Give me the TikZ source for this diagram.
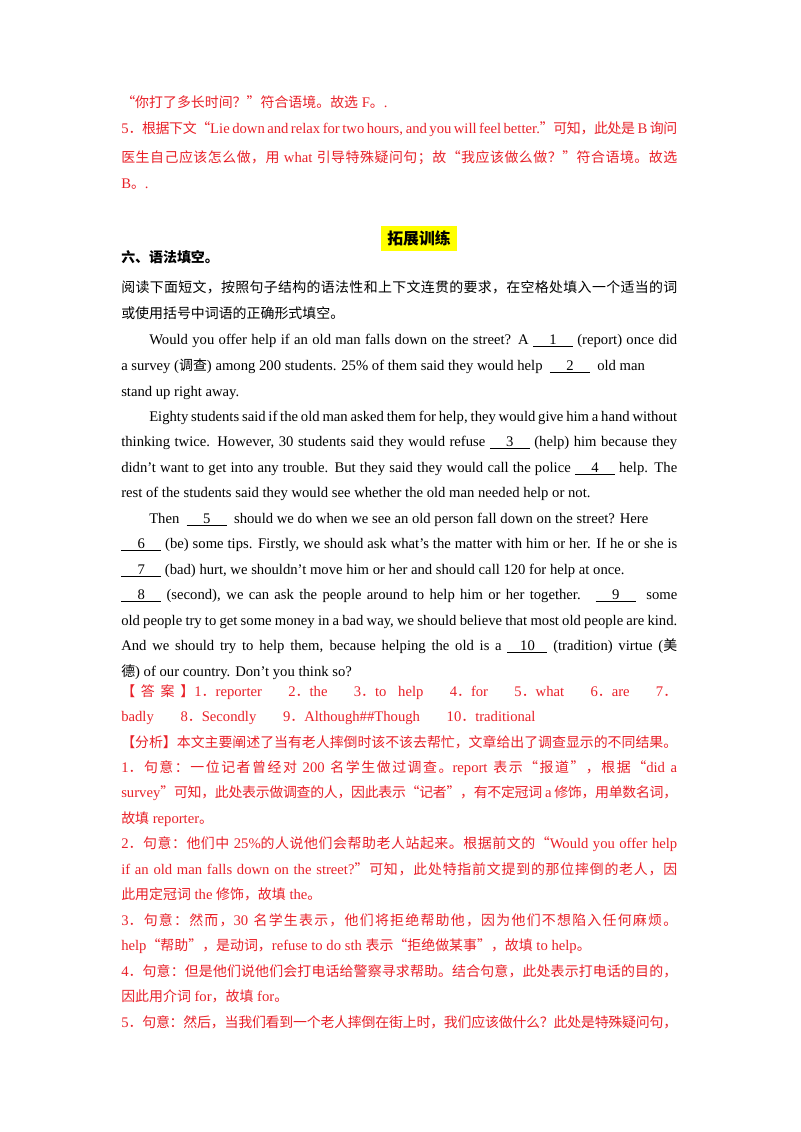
\documentclass[tikz,border=0pt]{standalone}
\usepackage{fontspec}
\setmainfont{Liberation Serif}
\newfontfamily\cjk{Noto Sans CJK SC}[Scale=0.95]
\usepackage{xcolor}
\usetikzlibrary{positioning}
\definecolor{ansred}{RGB}{232,32,40}
\definecolor{hlyellow}{RGB}{255,255,0}
% CJK characters switch to the CJK family by themselves
\XeTeXinterchartokenstate=1
\newXeTeXintercharclass\cjkclass
\makeatletter
\count@="4E00
\loop\XeTeXcharclass\count@=\cjkclass\ifnum\count@<"9FFF\advance\count@ by 1\repeat
\count@="3000
\loop\XeTeXcharclass\count@=\cjkclass\ifnum\count@<"303F\advance\count@ by 1\repeat
\count@="FF00
\loop\XeTeXcharclass\count@=\cjkclass\ifnum\count@<"FF5E\advance\count@ by 1\repeat
\makeatother
\XeTeXcharclass"201C=\cjkclass
\XeTeXcharclass"201D=\cjkclass
\XeTeXinterchartoks 0 \cjkclass={\begingroup\cjk}
\XeTeXinterchartoks 4095 \cjkclass={\begingroup\cjk}
\XeTeXinterchartoks \cjkclass 0={\endgroup}
\XeTeXinterchartoks \cjkclass 4095={\endgroup}
\XeTeXinterchartoks \cjkclass \cjkclass={\hskip 0pt plus 1pt minus 0.3pt\relax}
\newcommand{\blank}[1]{\underline{\makebox[30pt]{#1}}}
\newcommand{\fullbox}{\hbox to 417pt\bgroup}
\newcommand{\fullboxi}{\hbox to 396pt\bgroup}
\begin{document}
\begin{tikzpicture}
  [
    x=0.75pt, y=-0.75pt,
    ln/.style={anchor=base west, inner sep=0pt, font=\fontsize{11}{12}\selectfont},
    fl/.style={ln, execute at begin node=\fullbox, execute at end node=\egroup},
    fli/.style={ln, execute at begin node=\fullboxi, execute at end node=\egroup},
    rd/.style={text=ansred}
  ]
  \useasboundingbox (0,0) rectangle (800,1132);
  % answer lines at the top
  \node (a1) at (121,107) [ln, rd] {“你打了多长时间？”符合语境。故选 F。.};
  \node (a2) at (121,133) [fl, rd] {5．根据下文“Lie down and relax for two hours, and you will feel better.”可知，此处是 B 询问};
  \node (a3) at (121,162) [fl, rd] {医生自己应该怎么做，用 what 引导特殊疑问句；故“我应该做么做？”符合语境。故选};
  \node (a4) at (121,188) [ln, rd] {B。.};
  % title
  \fill [hlyellow] (381,226) rectangle (457,251);
  \node (title) at (419,244) [anchor=base, inner sep=0pt, font=\fontsize{12.5}{14}\selectfont\bfseries] {拓展训练};
  \node (sec) at (121,262) [ln, font=\fontsize{11}{12}\selectfont\bfseries] {六、语法填空。};
  % passage
  \node (p01) at (121,292) [fl] {阅读下面短文，按照句子结构的语法性和上下文连贯的要求，在空格处填入一个适当的词};
  \node (p02) at (121,318) [ln] {或使用括号中词语的正确形式填空。};
  \node (p03) at (149,344) [fli] {Would you offer help if an old man falls down on the street? A \blank{1} (report) once did};
  \node (p04) at (121,370) [ln] {a survey (调查) among 200 students. 25\% of them said they would help \ \blank{2} \ old man};
  \node (p05) at (121,396) [ln] {stand up right away.};
  \node (p06) at (149,421) [fli] {Eighty students said if the old man asked them for help, they would give him a hand without};
  \node (p07) at (121,446) [fl] {thinking twice. However, 30 students said they would refuse \blank{3} (help) him because they};
  \node (p08) at (121,472) [fl] {didn't want to get into any trouble. But they said they would call the police \blank{4} help. The};
  \node (p09) at (121,497) [ln] {rest of the students said they would see whether the old man needed help or not.};
  \node (p10) at (149,523) [ln] {Then \ \blank{5} \ should we do when we see an old person fall down on the street? Here};
  \node (p11) at (121,548) [fl] {\blank{6} (be) some tips. Firstly, we should ask what's the matter with him or her. If he or she is};
  \node (p12) at (121,574) [ln] {\blank{7} (bad) hurt, we shouldn't move him or her and should call 120 for help at once.};
  \node (p13) at (121,599) [fl] {\blank{8} (second), we can ask the people around to help him or her together. \ \blank{9} \ some};
  \node (p14) at (121,625) [fl] {old people try to get some money in a bad way, we should believe that most old people are kind.};
  \node (p15) at (121,650) [fl] {And we should try to help them, because helping the old is a \blank{10} (tradition) virtue (美};
  \node (p16) at (121,676) [ln] {德) of our country. Don't you think so?};
  % key and analysis
  \node (k1) at (121,696) [fl, rd] {【答案】1．reporter \quad 2．the \quad 3．to help \quad 4．for \quad 5．what \quad 6．are \quad 7．};
  \node (k2) at (121,721) [ln, rd] {badly\hspace{20pt}8．Secondly\hspace{20pt}9．Although\#\#Though\hspace{20pt}10．traditional};
  \node (k3) at (121,747) [fl, rd] {【分析】本文主要阐述了当有老人摔倒时该不该去帮忙，文章给出了调查显示的不同结果。};
  \node (k4) at (121,772) [fl, rd] {1．句意：一位记者曾经对 200 名学生做过调查。report 表示“报道”，根据“did a};
  \node (k5) at (121,797) [fl, rd] {survey”可知，此处表示做调查的人，因此表示“记者”，有不定冠词 a 修饰，用单数名词，};
  \node (k6) at (121,823) [ln, rd] {故填 reporter。};
  \node (k7) at (121,848) [fl, rd] {2．句意：他们中 25\%的人说他们会帮助老人站起来。根据前文的“Would you offer help};
  \node (k8) at (121,874) [fl, rd] {if an old man falls down on the street?”可知，此处特指前文提到的那位摔倒的老人，因};
  \node (k9) at (121,899) [ln, rd] {此用定冠词 the 修饰，故填 the。};
  \node (k10) at (121,925) [fl, rd] {3．句意：然而，30 名学生表示，他们将拒绝帮助他，因为他们不想陷入任何麻烦。};
  \node (k11) at (121,950) [ln, rd] {help“帮助”，是动词，refuse to do sth 表示“拒绝做某事”，故填 to help。};
  \node (k12) at (121,976) [fl, rd] {4．句意：但是他们说他们会打电话给警察寻求帮助。结合句意，此处表示打电话的目的，};
  \node (k13) at (121,1001) [ln, rd] {因此用介词 for，故填 for。};
  \node (k14) at (121,1027) [fl, rd] {5．句意：然后，当我们看到一个老人摔倒在街上时，我们应该做什么？此处是特殊疑问句，};
\end{tikzpicture}
\end{document}
